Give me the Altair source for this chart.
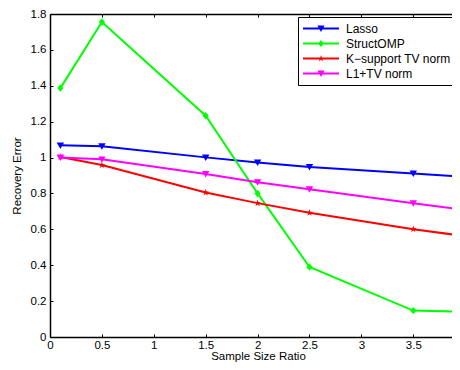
import altair as alt
import pandas as pd

# ---- data ----
sample_ratio = [0.1, 0.5, 1.5, 2.0, 2.5, 3.5, 4.0]
lasso = [1.068, 1.063, 1.001, 0.972, 0.947, 0.911, 0.893]
structomp = [1.387, 1.755, 1.233, 0.800, 0.390, 0.147, 0.140]
ksupport = [1.003, 0.958, 0.805, 0.746, 0.692, 0.601, 0.562]
l1tv = [1.000, 0.990, 0.908, 0.862, 0.823, 0.746, 0.707]

series_names = ["Lasso", "StructOMP", "K\u2212support TV norm", "L1+TV norm"]
series_colors = ["#0000ff", "#00ff00", "#ff0000", "#ff00ff"]
x_ticks = [0, 0.5, 1, 1.5, 2, 2.5, 3, 3.5]
y_ticks = [0, 0.2, 0.4, 0.6, 0.8, 1, 1.2, 1.4, 1.6, 1.8]

rows = []
for name, vals in zip(series_names, [lasso, structomp, ksupport, l1tv]):
    for xv, yv in zip(sample_ratio, vals):
        rows.append({"ratio": xv, "error": yv, "method": name})
df = pd.DataFrame(rows)

# ---- marker shapes (unit square paths) ----
tri_down = [(-1, -0.8), (1, -0.8), (0, 0.95)]
diamond = [(0, -1), (0.85, 0), (0, 1), (-0.85, 0)]
star = [(0, -1), (0.223, -0.307), (0.951, -0.309), (0.361, 0.117), (0.588, 0.809),
        (0, 0.38), (-0.588, 0.809), (-0.361, 0.117), (-0.951, -0.309), (-0.223, -0.307)]


def poly(pts, s=1.0):
    return "M" + " L".join(f"{x * s:.4f},{y * s:.4f}" for x, y in pts) + " Z"


marker_pts = [tri_down, diamond, star, tri_down]
plot_shapes = [poly(p) for p in marker_pts]
LINE_BAR = "M-1,-0.056 L1,-0.056 L1,0.056 L-1,0.056 Z "
legend_shapes = [LINE_BAR + poly(p, 0.2) for p in marker_pts]

FONT = "Liberation Sans"
AX_FS = 11.5

xscale = alt.Scale(domain=[0, 3.873], nice=False, zero=False)
yscale = alt.Scale(domain=[0, 1.8], nice=False, zero=False)

base = alt.Chart(df)

main_x_axis = alt.Axis(orient="bottom", values=x_ticks, format="~g", ticks=False,
                       domainColor="black", domainWidth=1.5, labelFont=FONT,
                       labelFontSize=AX_FS, labelColor="black", labelPadding=2,
                       labelFlush=False, labelOverlap=False, grid=False,
                       title="Sample Size Ratio", titleFont=FONT, titleFontSize=AX_FS,
                       titleFontWeight="normal", titleColor="black", titlePadding=0,
                       titleX=208)
main_y_axis = alt.Axis(orient="left", values=y_ticks, format="~g", ticks=False,
                       domainColor="black", domainWidth=1.5, labelFont=FONT,
                       labelFontSize=AX_FS, labelColor="black", labelPadding=4,
                       labelFlush=False, labelOverlap=False, grid=False,
                       title="Recovery Error", titleFont=FONT, titleFontSize=AX_FS,
                       titleFontWeight="normal", titleColor="black", titlePadding=8)

color_plain = alt.Color("method:N", scale=alt.Scale(domain=series_names, range=series_colors),
                        legend=None)

lines = base.mark_line(strokeWidth=2, clip=True).encode(
    x=alt.X("ratio:Q", scale=xscale, axis=main_x_axis),
    y=alt.Y("error:Q", scale=yscale, axis=main_y_axis),
    color=color_plain,
    order=alt.Order("ratio:Q"),
)

points = base.mark_point(filled=True, opacity=1, size=55, clip=True).encode(
    x=alt.X("ratio:Q", scale=xscale, axis=None),
    y=alt.Y("error:Q", scale=yscale, axis=None),
    color=color_plain,
    shape=alt.Shape("method:N", scale=alt.Scale(domain=series_names, range=plot_shapes),
                    legend=None),
)

legend_cfg = alt.Legend(orient="none", legendX=248, legendY=3, title=None,
                        strokeColor="black", fillColor="white", padding=5,
                        symbolSize=1296, symbolStrokeWidth=0, symbolOpacity=1,
                        clipHeight=13, rowPadding=2, labelOffset=7,
                        labelFont=FONT, labelFontSize=12, labelColor="black",
                        labelLimit=300)

legend_layer = base.mark_point(filled=True, opacity=1, size=1296).encode(
    x=alt.X("ratio:Q", scale=xscale, axis=None),
    y=alt.Y("error:Q", scale=yscale, axis=None),
    color=alt.Color("method:N", scale=alt.Scale(domain=series_names, range=series_colors),
                    legend=legend_cfg),
    shape=alt.Shape("method:N", scale=alt.Scale(domain=series_names, range=legend_shapes),
                    legend=legend_cfg),
).transform_filter("false")

tick_common = dict(ticks=True, tickSize=3, tickColor="black", tickWidth=1,
                   labels=False, domain=False, title=None, grid=False)

ticks_bl = base.mark_point(opacity=0).encode(
    x=alt.X("ratio:Q", scale=xscale,
            axis=alt.Axis(orient="bottom", values=x_ticks, offset=-3, **tick_common)),
    y=alt.Y("error:Q", scale=yscale,
            axis=alt.Axis(orient="left", values=y_ticks, offset=-3, **tick_common)),
)

top_domain = base.mark_point(opacity=0).encode(
    x=alt.X("ratio:Q", scale=xscale,
            axis=alt.Axis(orient="top", values=x_ticks, ticks=False, labels=False,
                          domain=True, domainColor="black", domainWidth=1.5,
                          title=None, grid=False)),
)

top_ticks = base.mark_point(opacity=0).encode(
    x=alt.X("ratio:Q", scale=xscale,
            axis=alt.Axis(orient="top", values=x_ticks, offset=-3, **tick_common)),
)

chart = alt.layer(lines, points, legend_layer, ticks_bl, top_domain, top_ticks).resolve_scale(
    color="independent", shape="independent"
).resolve_axis(
    x="independent", y="independent"
).properties(
    width=402, height=323,
    autosize=alt.AutoSizeParams(type="none"),
    padding={"left": 42, "top": 6, "right": 0, "bottom": 25},
).configure_view(stroke=None)

chart.save("out.html", embed_options={"renderer": "svg", "actions": False})
